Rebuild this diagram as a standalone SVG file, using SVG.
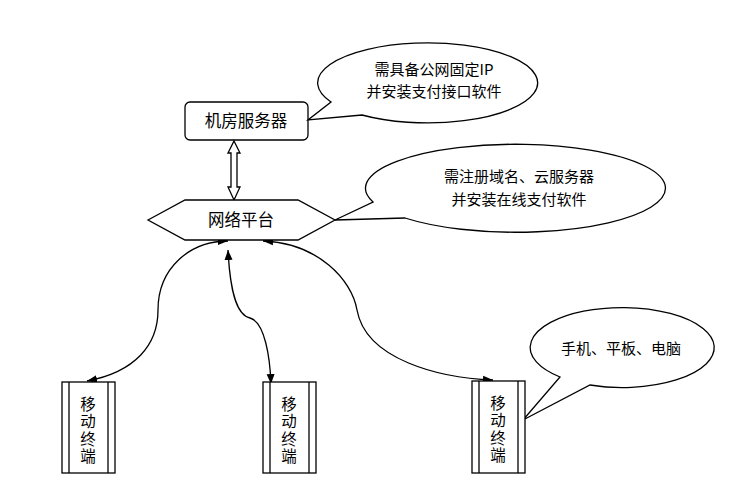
<svg xmlns="http://www.w3.org/2000/svg" width="741" height="493" viewBox="0 0 741 493">
<style>
.s{fill:#fff;stroke:#000;stroke-width:1.3}
.t{font-family:"Noto Sans CJK SC","Liberation Sans",sans-serif;font-size:15px;fill:#000;text-anchor:middle}
.b{font-size:16.5px}
.v{font-size:15.5px;writing-mode:vertical-rl;letter-spacing:2px}
.c{fill:none;stroke:#000;stroke-width:1.3}
</style>
<defs>
<marker id="ah" viewBox="0 0 10 10" refX="10" refY="5" markerWidth="10" markerHeight="10" markerUnits="userSpaceOnUse" orient="auto-start-reverse">
<path d="M0,1 L10,5 L0,9 Z" fill="#000"/>
</marker>
</defs>
<rect width="741" height="493" fill="#fff"/>
<g id="connectors">
<path class="c" d="M87,381 C135,372 158,345 158,310 C158,268 190,241 228,241" marker-start="url(#ah)" marker-end="url(#ah)"/>
<path class="c" d="M228,250 C230,290 236,315 250,318 C265,322 270,358 271,384" marker-start="url(#ah)" marker-end="url(#ah)"/>
<path class="c" d="M263,241 C318,243 352,280 357,310 C366,360 440,378 493,380" marker-start="url(#ah)" marker-end="url(#ah)"/>
<path class="s" d="M234,141 L240,153 L237,153 L237,187 L240,187 L234,200 L228,187 L231,187 L231,153 L228,153 Z"/>
</g>
<g id="server">
<rect class="s" x="185" y="102" width="123" height="38" rx="5"/>
<text class="t b" x="246" y="127">机房服务器</text>
</g>
<g id="callout1">
<path class="s" d="M331,102 A110,40 0 1 1 362,115 L308,120 Z"/>
<text class="t" x="434" y="75">需具备公网固定IP</text>
<text class="t" x="434" y="97">并安装支付接口软件</text>
</g>
<g id="platform">
<path class="s" d="M148,220 L185,200 L298,200 L335,220 L298,240 L185,240 Z"/>
<text class="t b" x="241" y="226">网络平台</text>
</g>
<g id="callout2">
<path class="s" d="M373,202 A150,44 0 1 1 405,218 L335,220 Z"/>
<text class="t" x="519" y="182">需注册域名、云服务器</text>
<text class="t" x="519" y="205">并安装在线支付软件</text>
</g>
<g id="callout3">
<path class="s" d="M560,377 A92,40 0 1 1 590,385 L523,420 Z"/>
<text class="t" x="621" y="354">手机、平板、电脑</text>
</g>
<g id="term1">
<rect class="s" x="62" y="382" width="53" height="91"/>
<line class="c" x1="69" y1="382" x2="69" y2="473"/>
<line class="c" x1="108" y1="382" x2="108" y2="473"/>
<text class="t v" x="88" y="431">移动终端</text>
</g>
<g id="term2">
<rect class="s" x="263" y="382" width="53" height="91"/>
<line class="c" x1="270" y1="382" x2="270" y2="473"/>
<line class="c" x1="309" y1="382" x2="309" y2="473"/>
<text class="t v" x="289" y="431">移动终端</text>
</g>
<g id="term3">
<rect class="s" x="472" y="381" width="53" height="92"/>
<line class="c" x1="479" y1="381" x2="479" y2="473"/>
<line class="c" x1="518" y1="381" x2="518" y2="473"/>
<text class="t v" x="498" y="430">移动终端</text>
</g>
</svg>
